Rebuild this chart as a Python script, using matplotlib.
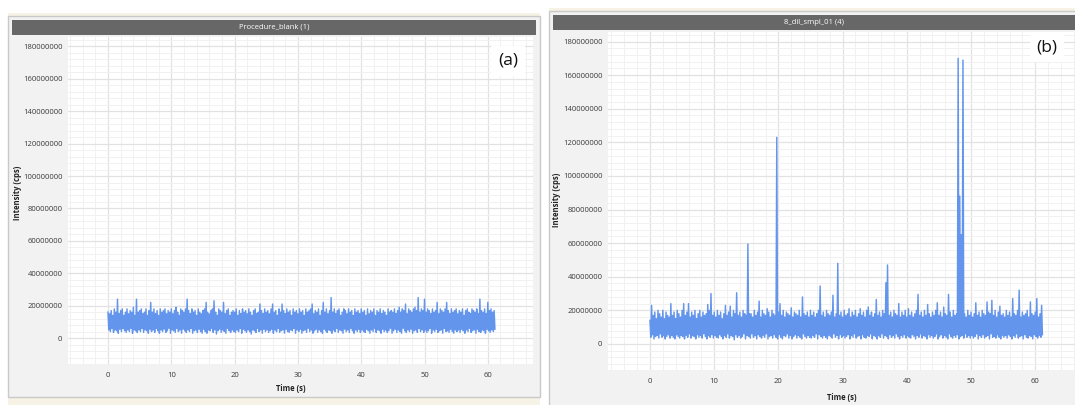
import numpy as np
import matplotlib
matplotlib.use("Agg")
import matplotlib.pyplot as plt
from matplotlib.patches import Rectangle
from matplotlib.ticker import MultipleLocator, FuncFormatter

# ---------------------------------------------------------------------------
# Single-particle ICP-MS time scans (intensity in millions of cps).
# Each scan is stored as alternating local maxima / minima sampled every 0.25 s.
# ---------------------------------------------------------------------------
titles = ["Procedure_blank (1)", "8_dil_smpl_01 (4)"]
panel_tags = ["(a)", "(b)"]
x_ticks = [0, 10, 20, 30, 40, 50, 60]
y_ticks = [0, 20, 40, 60, 80, 100, 120, 140, 160, 180]   # millions of cps
step_s = 0.25

blank_tops = [
    16, 15, 17, 14, 18, 16, 24, 15, 17, 18, 14, 16, 18, 15, 17, 16, 19, 14, 24, 16,
    17, 18, 15, 16, 18, 14, 17, 22, 16, 18, 15, 17, 14, 18, 16, 17, 18, 15, 17, 16,
    18, 15, 17, 19, 16, 14, 18, 17, 16, 18, 24, 17, 15, 18, 16, 17, 14, 18, 16, 15,
    17, 18, 22, 16, 15, 17, 18, 23, 16, 14, 18, 17, 16, 22, 15, 17, 18, 14, 16, 17,
    16, 18, 14, 17, 15, 18, 16, 17, 15, 18, 16, 14, 17, 18, 15, 16, 21, 17, 15, 18,
    16, 17, 15, 18, 21, 16, 17, 14, 18, 16, 21, 17, 15, 18, 16, 17, 14, 18, 16, 17,
    15, 18, 16, 17, 14, 18, 16, 17, 18, 21, 15, 17, 16, 18, 14, 17, 22, 16, 18, 15,
    17, 25, 16, 18, 15, 17, 18, 14, 16, 18, 17, 15, 18, 16, 17, 14, 18, 16, 17, 15,
    18, 16, 17, 14, 18, 15, 17, 16, 18, 14, 17, 16, 18, 15, 17, 16, 14, 18, 16, 17,
    16, 18, 15, 17, 19, 16, 18, 17, 21, 15, 18, 17, 16, 18, 19, 17, 25, 16, 18, 17,
    24, 16, 18, 17, 15, 18, 16, 17, 22, 15, 18, 17, 16, 18, 22, 17, 15, 18, 16, 17,
    18, 15, 17, 16, 18, 14, 17, 18, 16, 15, 18, 17, 16, 18, 15, 24, 17, 16, 18, 15,
    22, 17, 18, 16, 17,
]
blank_bottoms = [
    5, 4, 6, 3.5, 5, 4.5, 3, 5.5, 4, 6, 4.5, 3.5, 5, 4, 6, 3, 5, 4.5, 3.5, 5,
    4, 6, 3.5, 5, 4.5, 3, 5.5, 4, 5, 3.5, 6, 4.5, 3, 5, 4, 5.5, 3.5, 4.5, 6, 3,
    5, 4.5, 3.5, 6, 4, 5, 3, 5.5, 4.5, 3.5, 5, 4, 6, 3, 4.5, 5, 3.5, 5.5, 4, 3,
    5.5, 4, 3, 5, 4.5, 6, 3.5, 5, 2.5, 4.5, 5.5, 3.5, 5, 4, 3, 6, 4.5, 3.5, 5, 4,
    3.5, 5, 4, 6, 3, 5.5, 4.5, 3.5, 5, 4, 2.5, 5, 4.5, 3.5, 6, 4, 5, 3, 5.5, 4,
    5, 3.5, 4.5, 5.5, 3, 5, 4, 6, 3.5, 4.5, 5, 3, 5.5, 4, 3.5, 5, 4.5, 6, 3, 5,
    4, 5.5, 3, 4.5, 5, 3.5, 6, 4, 5, 3, 4.5, 5.5, 3.5, 5, 4, 3, 5.5, 4.5, 3.5, 5,
    4.5, 3, 5, 4, 6, 3.5, 5, 4.5, 3, 5.5, 4, 5, 3.5, 6, 4.5, 3, 5, 4, 5.5, 3.5,
    5, 4, 3.5, 5.5, 4.5, 3, 5, 4, 6, 3.5, 5, 4.5, 3, 5.5, 4, 5, 3.5, 4.5, 6, 3,
    4.5, 5.5, 3.5, 5, 4, 3, 6, 4.5, 3.5, 5, 4, 5.5, 3, 4.5, 5, 3.5, 6, 4, 5, 3.5,
    5, 3.5, 4.5, 6, 3, 5, 4, 5.5, 3.5, 4.5, 5, 3, 6, 4, 4.5, 3.5, 5.5, 4, 3, 5,
    4, 5, 3.5, 5.5, 4.5, 3, 5, 4, 6, 3.5, 4.5, 5, 3, 5.5, 4, 3.5, 5, 4.5, 3, 5.5,
    4.5, 3.5, 5, 4, 5.5,
]

sample_tops = [
    14, 23, 17, 19, 15, 20, 18, 16, 20, 15, 19, 17, 16, 24, 17, 19, 15, 20, 18, 16,
    20, 24, 17, 19, 24, 16, 19, 17, 20, 15, 18, 20, 16, 19, 17, 18, 23.5, 20, 30, 17,
    19, 16, 20, 17, 19, 15, 18, 23, 17, 19, 22.5, 16, 20, 18, 30.5, 17, 19, 16, 20, 18,
    17, 59.5, 18, 18, 16, 20, 17, 19, 25.5, 16, 20, 18, 17, 21, 19, 16, 20, 18, 17, 123,
    19, 24, 17, 20, 16, 19, 18, 17, 21.5, 16, 19, 18, 17, 20, 16, 28, 18, 17, 19, 16,
    20, 17, 19, 16, 18, 20, 34.5, 17, 19, 16, 20, 18, 17, 19, 29, 16, 18, 48, 17, 19,
    16, 20, 17, 18, 21, 16, 19, 17, 20, 16, 18, 21, 17, 19, 16, 20, 22, 17, 19, 16,
    18, 26.5, 17, 19, 16, 20, 18, 36.5, 47, 17, 19, 16, 20, 18, 17, 24, 16, 19, 17, 20,
    16, 21, 17, 19, 16, 18, 20, 29.5, 17, 19, 16, 20, 17, 23.5, 18, 16, 19, 17, 20, 24.5,
    17, 19, 16, 22, 18, 17, 29.5, 19, 16, 20, 17, 18, 170, 88, 65, 169, 18, 16, 20, 17,
    19, 16, 18, 24.5, 17, 19, 16, 20, 18, 17, 25, 19, 18, 26, 17, 20, 16, 19, 22.5, 17,
    18, 16, 20, 17, 19, 16, 27, 18, 17, 20, 32, 16, 19, 17, 18, 20, 16, 25, 18, 17,
    19, 27, 16, 18, 23,
]
sample_bottoms = [
    4, 5.5, 3, 4.5, 5, 3.5, 6, 4, 5, 3, 4.5, 5.5, 3.5, 5, 4, 3, 5.5, 4.5, 3.5, 5,
    4.5, 3, 5, 4, 6, 3.5, 5, 4.5, 3, 5.5, 4, 5, 3.5, 6, 4.5, 3, 5, 4, 5.5, 3.5,
    5, 4, 3.5, 5.5, 4.5, 3, 5, 4, 6, 3.5, 5, 4.5, 2.5, 5.5, 4, 5, 3.5, 4.5, 6, 3,
    5, 4.5, 3.5, 6, 4, 5, 3, 5.5, 4.5, 3.5, 5, 4, 6, 3, 4.5, 5, 3.5, 5.5, 4, 3,
    5.5, 4, 3, 5, 4.5, 6, 3.5, 5, 3, 4.5, 5.5, 3.5, 5, 4, 3, 6, 4.5, 3.5, 5, 4,
    3.5, 5, 4, 6, 3, 5.5, 4.5, 3.5, 5, 4, 3, 5, 4.5, 3.5, 6, 4, 5, 3, 5.5, 4,
    5, 3.5, 4.5, 5.5, 3, 5, 4, 6, 3.5, 4.5, 5, 3, 5.5, 4, 3.5, 5, 4.5, 6, 3, 5,
    4.5, 3, 5, 4, 6, 3.5, 5, 4.5, 3, 5.5, 4, 5, 3.5, 6, 4.5, 3, 5, 4, 5.5, 3.5,
    5, 4, 3.5, 5.5, 4.5, 3, 5, 4, 6, 3.5, 5, 4.5, 3, 5.5, 4, 5, 3.5, 4.5, 6, 3,
    4.5, 5.5, 3.5, 5, 4, 3, 6, 4.5, 3.5, 5, 4, 5.5, 3, 4.5, 5, 3.5, 6, 4, 5, 3.5,
    5, 3.5, 4.5, 6, 3, 5, 4, 5.5, 3.5, 4.5, 5, 3, 6, 4, 4.5, 3.5, 5.5, 4, 3, 5,
    4, 5, 3.5, 5.5, 4.5, 3, 5, 4, 6, 3.5, 4.5, 5, 3, 5.5, 4, 3.5, 5, 4.5, 3, 5.5,
    4.5, 3.5, 5, 4, 5.5,
]


def interleave(tops, bottoms):
    """Return (time, intensity) with maxima and minima alternating in time."""
    tops = np.asarray(tops, float) * 1e6
    bottoms = np.asarray(bottoms, float) * 1e6
    values = np.empty(tops.size + bottoms.size)
    values[0::2] = tops
    values[1::2] = bottoms
    t = np.arange(values.size) * (step_s / 2)
    return t, values


W, H = 1075, 405
fig = plt.figure(figsize=(W / 100, H / 100), dpi=100)
fig.patch.set_facecolor("white")

# Pixel-space canvas for the window chrome.
bg = fig.add_axes([0, 0, 1, 1], zorder=0)
bg.set_xlim(0, W)
bg.set_ylim(H, 0)
bg.axis("off")

font = "Open Sans"
tick_col = "#3a3a3a"
bar_col = "#676767"
win_col = "#f2f2f2"
edge_col = "#c9c9c9"
beige = "#f6f3e6"

# beige strips of the host window
bg.add_patch(Rectangle((8, 13), 532, 3, facecolor=beige, edgecolor="none"))
bg.add_patch(Rectangle((8, 398), 532, 7, facecolor=beige, edgecolor="none"))
bg.add_patch(Rectangle((549, 8), 526, 3, facecolor=beige, edgecolor="none"))

# windows: (x0, y0, x1, y1, title bar y0, y1)
windows = [
    (8, 16, 540, 397, 20, 35),
    (549, 11, 1080, 410, 15, 30),
]
for (x0, y0, x1, y1, ty0, ty1), title in zip(windows, titles):
    bg.add_patch(Rectangle((x0, y0), x1 - x0, y1 - y0, facecolor=win_col,
                           edgecolor=edge_col, linewidth=1.0))
    bg.add_patch(Rectangle((x0 + 4, ty0), x1 - x0 - 8, ty1 - ty0,
                           facecolor=bar_col, edgecolor="none"))
    bg.text((x0 + 4 + min(x1, W) - 4) / 2 + (2 if x1 > W else 0), (ty0 + ty1) / 2, title,
            color="white", fontsize=5.5, family=font, ha="center", va="center")

# plot areas in pixels: (left, top, right, bottom), data mapping
plots = [
    dict(box=(68, 37, 533, 364), xlim=(-6.32, 67.14), ylim=(-16.0e6, 185.8e6),
         xlab=(0.48, -0.062), ylab=(-0.099, 0.523),
         tag_xy=(0.947, 0.927), tops=blank_tops, bottoms=blank_bottoms),
    dict(box=(608, 32, 1075, 370), xlim=(-6.54, 66.2), ylim=(-15.5e6, 185.7e6),
         xlab=(0.501, -0.068), ylab=(-0.100, 0.503),
         tag_xy=(0.94, 0.955), tops=sample_tops, bottoms=sample_bottoms),
]

fmt = FuncFormatter(lambda v, p: f"{int(round(v))}")

for spec, tag in zip(plots, panel_tags):
    l, t, r, b = spec["box"]
    ax = fig.add_axes([l / W, (H - b) / H, (r - l) / W, (b - t) / H], zorder=2)
    ax.set_facecolor("white")
    for s in ax.spines.values():
        s.set_visible(False)
    time_s, intensity = interleave(spec["tops"], spec["bottoms"])
    ax.plot(time_s, intensity, color="#6495ed", linewidth=1.05, zorder=3)
    ax.set_xlim(*spec["xlim"])
    ax.set_ylim(*spec["ylim"])
    ax.set_xticks(x_ticks)
    ax.set_yticks(np.array(y_ticks) * 1e6)
    ax.yaxis.set_major_formatter(fmt)
    ax.xaxis.set_minor_locator(MultipleLocator(2))
    ax.yaxis.set_minor_locator(MultipleLocator(4e6))
    ax.grid(which="major", color="#e2e2e2", linewidth=0.9, zorder=0)
    ax.grid(which="minor", color="#f1f1f1", linewidth=0.7, zorder=0)
    ax.set_axisbelow(True)
    ax.tick_params(which="both", length=0)
    ax.tick_params(axis="x", pad=6, labelsize=5.5, labelcolor=tick_col)
    ax.tick_params(axis="y", pad=4, labelsize=5.5, labelcolor=tick_col)
    for lab in ax.get_xticklabels() + ax.get_yticklabels():
        lab.set_family(font)
    ax.set_xlabel("Time (s)", fontsize=5.5, fontweight="bold", family=font,
                  color="#222222")
    ax.xaxis.set_label_coords(*spec["xlab"])
    ax.set_ylabel("Intensity (cps)", fontsize=5.5, fontweight="bold", family=font,
                  color="#222222")
    ax.yaxis.set_label_coords(*spec["ylab"])
    ax.text(*spec["tag_xy"], tag, transform=ax.transAxes, fontsize=12.5,
            family=font, color="#111111", ha="center", va="center", zorder=5,
            bbox=dict(facecolor="white", edgecolor="none", pad=5))

fig.savefig("out.png", dpi=100, facecolor=fig.get_facecolor())
